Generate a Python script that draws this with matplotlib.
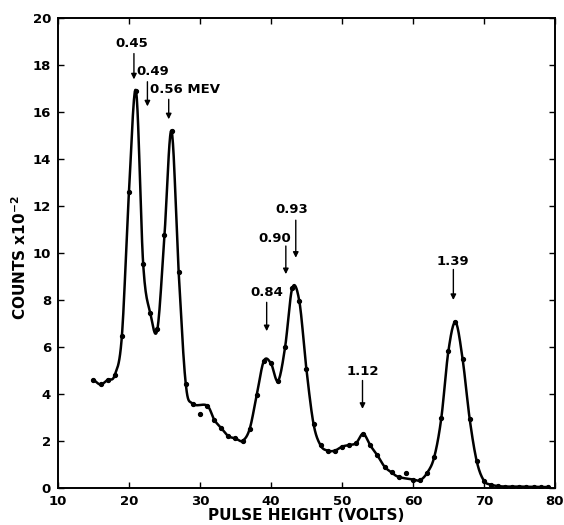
import numpy as np
import matplotlib
matplotlib.use("Agg")
import matplotlib.pyplot as plt

# pulse height (volts) and counts (x10^-2)
volts = np.arange(15, 80)
counts = np.array([
    4.6, 4.4, 4.6, 4.8, 6.45, 12.6, 16.9, 9.55, 7.45, 6.75,     # 15-24
    10.75, 15.2, 9.2, 4.43, 3.58, 3.15, 3.5, 2.9, 2.54, 2.2,    # 25-34
    2.1, 2.0, 2.5, 3.95, 5.4, 5.3, 4.55, 6.0, 8.5, 7.95,        # 35-44
    5.05, 2.72, 1.8, 1.58, 1.58, 1.75, 1.82, 1.9, 2.3, 1.8,     # 45-54
    1.38, 0.9, 0.65, 0.46, 0.61, 0.35, 0.32, 0.63, 1.3, 2.96,   # 55-64
    5.82, 7.05, 5.49, 2.93, 1.12, 0.3, 0.13, 0.07, 0.05, 0.05,  # 65-74
    0.05, 0.04, 0.04, 0.03, 0.03,                               # 75-79
])
# points the hand-drawn curve does not go through
off_curve = [30, 59]

# energy markers (MeV): label, arrow x, arrow tip y, arrow tail y
line_labels = ["0.45", "0.49", "0.56 MEV", "0.84", "0.90", "0.93", "1.12", "1.39"]
line_x = [20.7, 22.6, 25.6, 39.4, 42.1, 43.5, 52.9, 65.7]
line_tip = [17.4, 16.25, 15.7, 6.67, 9.1, 9.8, 3.36, 8.0]
line_tail = [18.5, 17.3, 16.55, 7.9, 10.3, 11.4, 4.57, 9.3]
label_x = [20.4, 23.3, 27.9, 39.4, 40.6, 43.0, 52.9, 65.7]
label_y = [18.95, 17.75, 16.95, 8.3, 10.6, 11.85, 4.95, 9.65]


def catmull_rom(x, y, n=20):
    # smooth curve through the measured points (like a french curve)
    xp = np.concatenate([[2 * x[0] - x[1]], x, [2 * x[-1] - x[-2]]])
    yp = np.concatenate([[2 * y[0] - y[1]], y, [2 * y[-1] - y[-2]]])
    xs, ys = [], []
    t = np.linspace(0, 1, n, endpoint=False)
    for i in range(1, len(xp) - 2):
        p0, p1, p2, p3 = yp[i - 1], yp[i], yp[i + 1], yp[i + 2]
        q0, q1, q2, q3 = xp[i - 1], xp[i], xp[i + 1], xp[i + 2]
        ys.append(0.5 * (2 * p1 + (-p0 + p2) * t + (2 * p0 - 5 * p1 + 4 * p2 - p3) * t ** 2
                         + (-p0 + 3 * p1 - 3 * p2 + p3) * t ** 3))
        xs.append(0.5 * (2 * q1 + (-q0 + q2) * t + (2 * q0 - 5 * q1 + 4 * q2 - q3) * t ** 2
                         + (-q0 + 3 * q1 - 3 * q2 + q3) * t ** 3))
    xs.append([x[-1]])
    ys.append([y[-1]])
    return np.concatenate(xs), np.concatenate(ys)


plt.rcParams['font.family'] = 'DejaVu Sans'
plt.rcParams['font.weight'] = 'bold'

fig = plt.figure(figsize=(5.64, 5.25), dpi=100)
ax = fig.add_axes([0.1028, 0.071, 0.881, 0.894])

mask = ~np.isin(volts, off_curve)
cx, cy = catmull_rom(volts[mask].astype(float), counts[mask])
cy = np.clip(cy, 0, None)
ax.plot(cx, cy, color='black', lw=1.8, solid_capstyle='round')
ax.plot(volts, counts, 'o', color='black', ms=2.8)

for lab, x, tip, tail, tx, ty in zip(line_labels, line_x, line_tip, line_tail, label_x, label_y):
    ax.annotate('', xy=(x, tip), xytext=(x, tail),
                arrowprops=dict(arrowstyle='-|>', color='black', lw=1.0,
                                mutation_scale=8, shrinkA=0, shrinkB=0))
    ax.text(tx, ty, lab, ha='center', va='center', fontsize=9.5, fontweight='bold')

ax.set_xlim(10, 80)
ax.set_ylim(0, 20)
ax.set_xticks(np.arange(10, 81, 10))
ax.set_yticks(np.arange(0, 21, 2))
ax.tick_params(direction='in', length=4, width=1, top=True, right=True,
               labelsize=9.5)
ax.tick_params(axis='x', pad=5)
ax.tick_params(axis='y', pad=5)
for lbl in ax.get_xticklabels() + ax.get_yticklabels():
    lbl.set_fontweight('bold')
for s in ax.spines.values():
    s.set_linewidth(1.4)

ax.set_xlabel('PULSE HEIGHT (VOLTS)', fontsize=11, fontweight='bold')
ax.xaxis.set_label_coords(0.5, -0.043)
ax.set_ylabel(r'COUNTS x10$^{\mathbf{-2}}$', fontsize=11, fontweight='bold')
ax.yaxis.set_label_coords(-0.058, 0.49)

fig.savefig('out.png', dpi=100)
